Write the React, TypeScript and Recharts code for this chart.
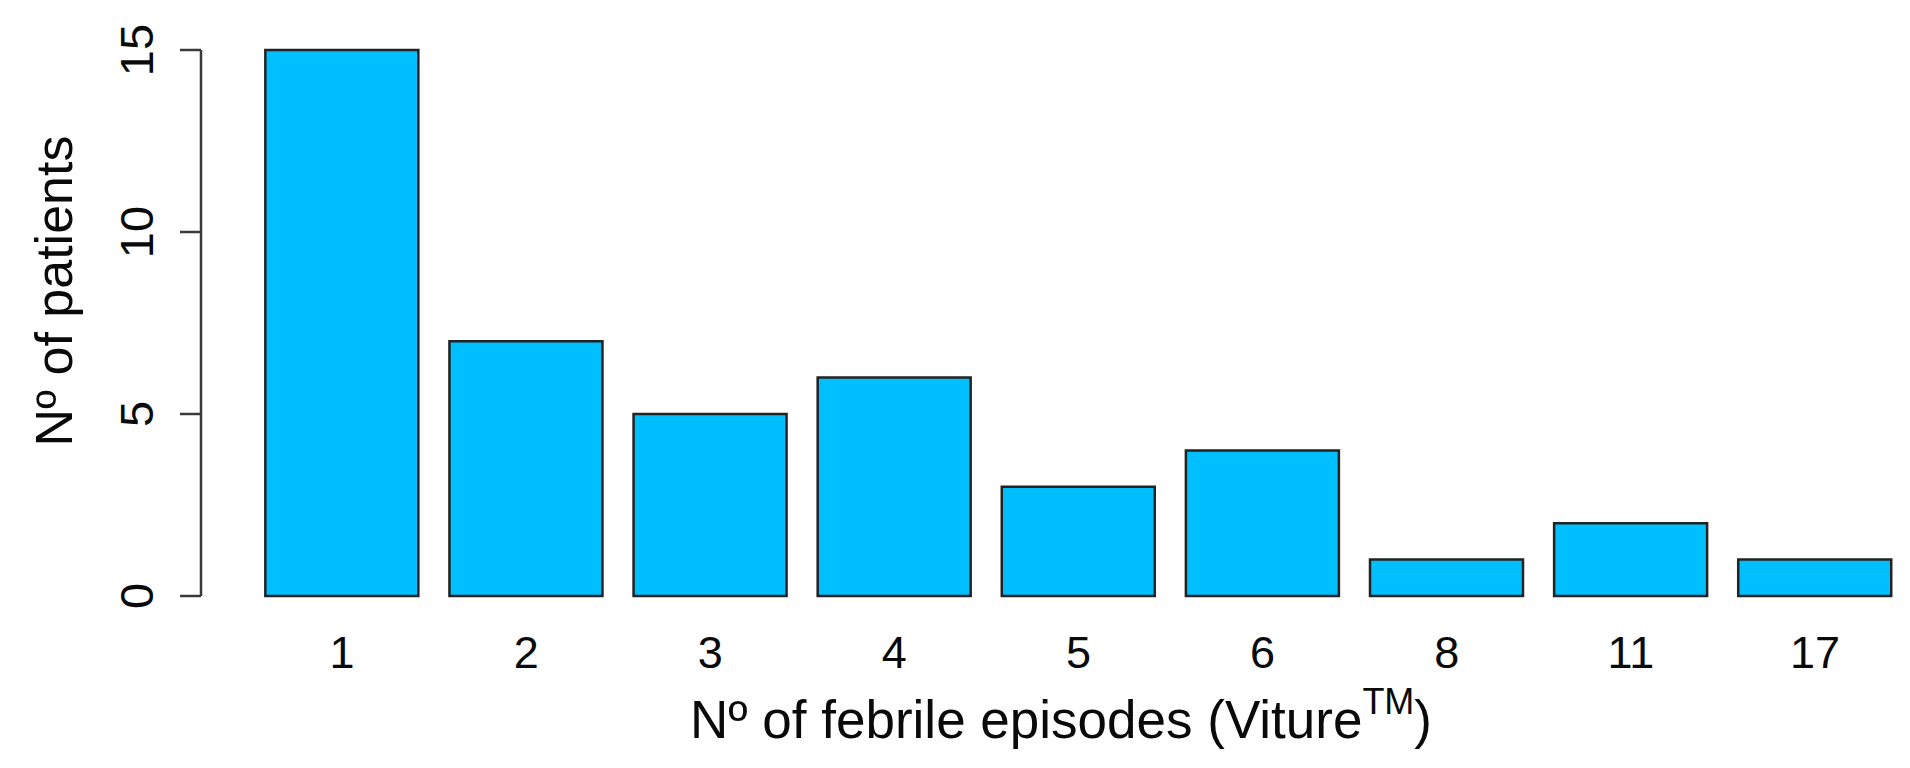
import { BarChart, Bar, XAxis, YAxis } from "recharts";

const episodes = ["1", "2", "3", "4", "5", "6", "8", "11", "17"];
const patients = [15, 7, 5, 6, 3, 4, 1, 2, 1];
const yTicks = [0, 5, 10, 15];

const xTitle = "Nº of febrile episodes (Viture";
const yTitle = "Nº of patients";

const FONT = "'Liberation Sans', Arial, Helvetica, sans-serif";
const INK = "#0a0a0a";

const chartData = episodes.map((e, i) => ({ episodes: e, patients: patients[i] }));

function XTick(props: any) {
  const { x, y, payload } = props;
  return (
    <text x={x} y={y} dy={72} textAnchor="middle" fontSize={45} fontFamily={FONT} fill={INK}>
      {payload.value}
    </text>
  );
}

function YTick(props: any) {
  const { x, y, payload } = props;
  const bx = x - 27;
  return (
    <text
      x={bx}
      y={y}
      textAnchor="middle"
      transform={`rotate(-90, ${bx}, ${y})`}
      fontSize={47}
      fontFamily={FONT}
      fill={INK}
    >
      {payload.value}
    </text>
  );
}

function XTitle() {
  return (
    <text x={1061} y={738} textAnchor="middle" fontSize={53} fontFamily={FONT} fill={INK}>
      {xTitle}
      <tspan dy={-24} fontSize={36}>TM</tspan>
      <tspan dy={24}>)</tspan>
    </text>
  );
}

function YTitle() {
  return (
    <text
      x={72}
      y={291}
      textAnchor="middle"
      transform="rotate(-90, 72, 291)"
      fontSize={52}
      fontFamily={FONT}
      fill={INK}
    >
      {yTitle}
    </text>
  );
}

export default function App() {
  return (
    <div style={{ position: "absolute", left: 0, top: 0, background: "#fff" }}>
      <BarChart
        width={1910}
        height={768}
        data={chartData}
        margin={{ top: 50, right: 3, left: 0, bottom: 0 }}
        barCategoryGap="8.33%"
      >
        <XAxis
          dataKey="episodes"
          axisLine={false}
          tickLine={false}
          tickSize={0}
          tickMargin={0}
          height={172}
          padding={{ left: 49, right: 0 }}
          tick={<XTick />}
          interval={0}
          label={<XTitle />}
        />
        <YAxis
          width={201}
          domain={[0, 15]}
          ticks={yTicks}
          tickSize={21}
          tickMargin={0}
          axisLine={{ stroke: "#3a3a3a", strokeWidth: 2.5 }}
          tickLine={{ stroke: "#3a3a3a", strokeWidth: 2.5 }}
          tick={<YTick />}
          label={<YTitle />}
        />
        <Bar
          dataKey="patients"
          fill="#00BFFF"
          stroke="#222"
          strokeWidth={2.5}
          isAnimationActive={false}
        />
      </BarChart>
    </div>
  );
}
